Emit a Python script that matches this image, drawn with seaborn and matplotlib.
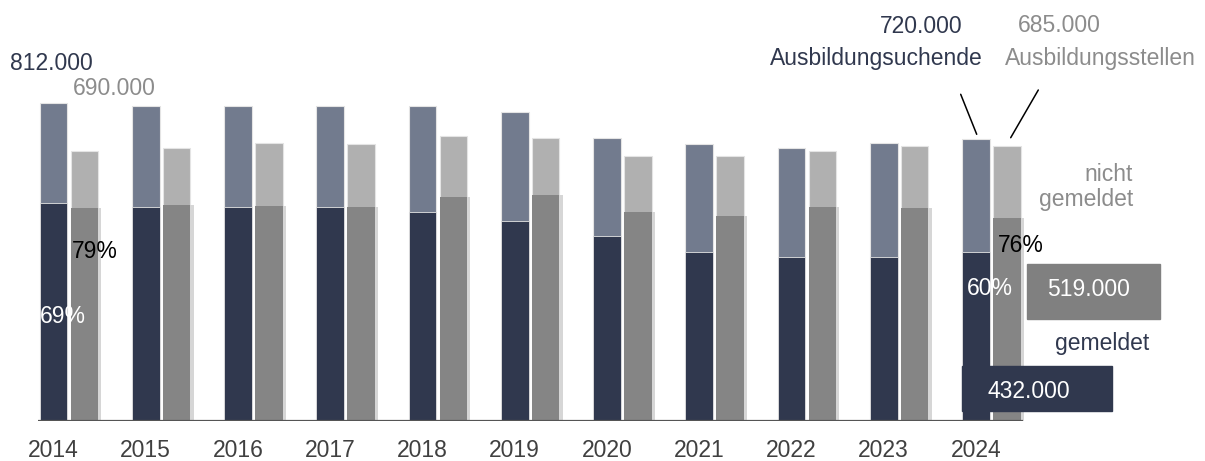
import matplotlib
matplotlib.use('Agg')
import matplotlib.pyplot as plt
import matplotlib.transforms as mtransforms
from matplotlib.patches import Rectangle
from matplotlib.lines import Line2D
import numpy as np
import pandas as pd
import seaborn as sns

# Werte
years = [2014, 2015, 2016, 2017, 2018, 2019, 2020, 2021, 2022, 2023, 2024]
suchende_gesamt = [812000, 806000, 806000, 806000, 806000, 789000, 723000, 707000, 699000, 711000, 720000]
suchende_gemeldet = [558000, 547000, 547000, 547000, 534000, 510000, 474000, 433000, 420000, 420000, 432000]
stellen_gesamt = [690000, 699000, 711000, 707000, 728000, 723000, 678000, 678000, 690000, 703000, 703000]
stellen_gemeldet = [544000, 552000, 550000, 547000, 572000, 577000, 535000, 524000, 548000, 544000, 520000]
pct_labels = ['69%', '79%', '60%', '76%']

NAVY = '#30384e'
SLATE = '#727b8e'
LGRAY = '#b0b0b0'
MGRAY = '#858585'
TGRAY = '#8c8c8c'

W, H = 1205, 461
sns.set_style('white')
plt.rcParams['font.family'] = ['Liberation Sans', 'DejaVu Sans']

fig = plt.figure(figsize=(W / 100, H / 100), dpi=100)
ax = fig.add_axes([0, (H - 421) / H, 1, 421 / H])

idx = np.arange(len(years))
off = 0.335
df = pd.DataFrame({
    'pos_a': idx.astype(float),
    'pos_s': idx + off,
    'pos_sh': idx + off + 0.035,
    'sg': suchende_gesamt,
    'sm': suchende_gemeldet,
    'stg': stellen_gesamt,
    'stm': stellen_gemeldet,
})

common = dict(native_scale=True, width=0.30, saturation=1, errorbar=None, ax=ax)
sns.barplot(data=df, x='pos_a', y='sg', color=SLATE, edgecolor='#e4e4e4', linewidth=0.8, **common)
sns.barplot(data=df, x='pos_a', y='sm', color=NAVY, edgecolor='#e4e4e4', linewidth=0.6, **common)
sns.barplot(data=df, x='pos_s', y='stg', color=LGRAY, edgecolor='#e4e4e4', linewidth=0.8, **common)
sns.barplot(data=df, x='pos_sh', y='stm', color='#d6d6d6', linewidth=0, **common)
sns.barplot(data=df, x='pos_s', y='stm', color=MGRAY, linewidth=0, **common)

# px -> Daten
U = 812000 / 317.7
ax.set_ylim(0, 421 * U)
ax.set_xlim(-53.5 / 92.25, (W - 53.5) / 92.25)
ax.hlines(0, (38 - 53.5) / 92.25, (1023 - 53.5) / 92.25, color='#555555', lw=1.6, zorder=5)

ax.set_xticks(idx)
ax.set_xticklabels([str(y) for y in years], fontsize=16.5, color='#404040')
ax.tick_params(axis='x', length=0, pad=13)
ax.set_yticks([])
ax.set_xlabel('')
ax.set_ylabel('')
for s in ax.spines.values():
    s.set_visible(False)

# Pixelkoordinaten (Ursprung oben links)
T = mtransforms.Affine2D().scale(1 / W, -1 / H).translate(0, 1) + fig.transFigure

def txt(x, y, s, color, ha='left'):
    fig.text(x, y, s, transform=T, ha=ha, va='baseline', fontsize=16.5, color=color, zorder=10)

fig.add_artist(Rectangle((1027, 264), 133, 55, transform=T, color='#808080', zorder=3))
fig.add_artist(Rectangle((962, 366), 150, 45, transform=T, color=NAVY, zorder=3))
fig.add_artist(Line2D([960.7, 976.7], [94.3, 134.3], transform=T, color='black', lw=1.1))
fig.add_artist(Line2D([1038.3, 1010.7], [90, 137.7], transform=T, color='black', lw=1.1))

txt(10, 70, '812.000', NAVY)
txt(73, 95, '690.000', TGRAY)
txt(880, 33, '720.000', NAVY)
txt(770, 65, 'Ausbildungsuchende', NAVY)
txt(1018, 32, '685.000', TGRAY)
txt(1005, 65, 'Ausbildungsstellen', TGRAY)
txt(1133, 181, 'nicht', TGRAY, ha='right')
txt(1133, 206, 'gemeldet', TGRAY, ha='right')
txt(40, 323, pct_labels[0], 'white')
txt(72, 258, pct_labels[1], 'black')
txt(967, 295, pct_labels[2], 'white')
txt(998, 252, pct_labels[3], 'black')
txt(1047, 296, '519.000', 'white')
txt(1055, 350, 'gemeldet', NAVY)
txt(988, 398, '432.000', 'white')

fig.savefig('out.png', dpi=100)
